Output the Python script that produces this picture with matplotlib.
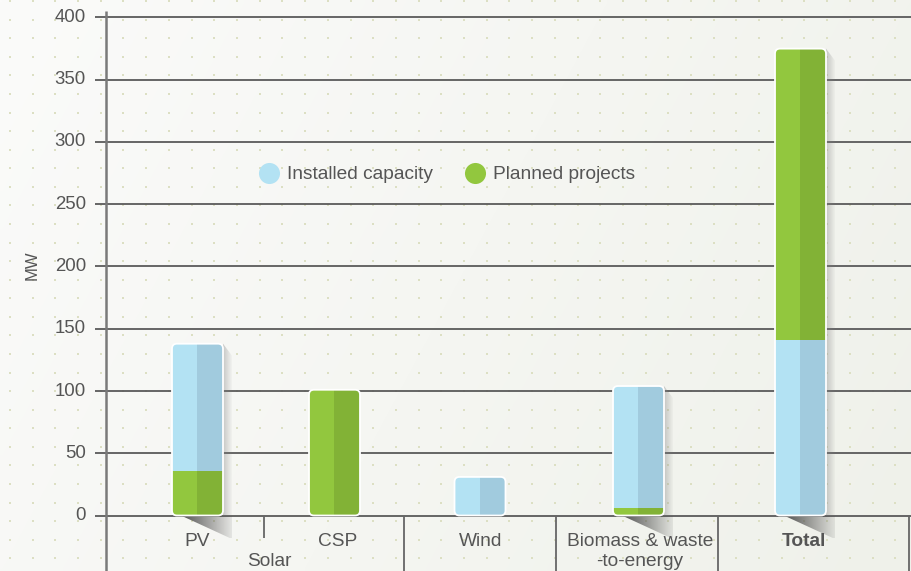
import matplotlib.pyplot as plt
import numpy as np
from matplotlib.colors import to_rgb
from matplotlib.patches import FancyBboxPatch, Polygon

# data (MW)
categories = ["PV", "CSP", "Wind", "Biomass & waste\n-to-energy", "Total"]
installed = [102, 0, 31, 98, 141]
planned = [36, 101, 0, 6, 234]
planned_at_bottom = [True, True, True, True, False]
with_shadow = [True, False, False, True, True]
yticks = [0, 50, 100, 150, 200, 250, 300, 350, 400]
group_label = "Solar"

# layout (pixel-like units on the x axis)
W, H = 912, 571
BASE, PPU = 515.5, 1.245          # pixel row of 0 MW, pixels per MW
bar_x = [197.5, 334.5, 480, 638.5, 800.5]
bar_w = 51
label_x = [197, 338, 481, 640, 804]
separators = [404, 556, 718, 909]

LIGHT_BLUE, DARK_BLUE = "#b3e2f3", "#a1cbde"
LIGHT_GREEN, DARK_GREEN = "#92c73e", "#82b236"
TEXT = "#555555"
FONT = ["Liberation Sans", "DejaVu Sans"]
FS = 13.8


def v(py):
    """pixel row -> MW"""
    return (BASE - py) / PPU


def px(n):
    """pixel height -> MW"""
    return n / PPU


fig = plt.figure(figsize=(W / 100, H / 100), dpi=100)
plt.rcParams["font.family"] = FONT

# background: soft gradient + dot pattern
bg = fig.add_axes([0, 0, 1, 1])
bg.set_axis_off()
xx, yy = np.meshgrid(np.linspace(0, 1, 200), np.linspace(0, 1, 120))
t = np.clip(0.75 * xx + 0.25 * yy, 0, 1)
c0 = np.array(to_rgb("#fbfbfa"))
c1 = np.array(to_rgb("#eff1ea"))
img = c0[None, None, :] * (1 - t[..., None]) + c1[None, None, :] * t[..., None]
bg.imshow(img, extent=[0, W, H, 0], aspect="auto", interpolation="bilinear")
dx, dy = np.meshgrid(np.arange(10, W, 22.7), np.arange(1.2, H, 18.57))
bg.scatter(dx.ravel(), dy.ravel(), s=3.2, marker="s", color="#dcdfc3", linewidths=0)
bg.set_xlim(0, W)
bg.set_ylim(H, 0)

ax = fig.add_axes([0, 0, 1, 1])
ax.patch.set_visible(False)
ax.set_axis_off()


def grad_fill(pts, x0, x1, y0, y1, color, a0, a1):
    poly = Polygon(pts, closed=True, fc="none", ec="none")
    ax.add_patch(poly)
    rgba = np.zeros((1, 64, 4))
    rgba[..., :3] = to_rgb(color)
    rgba[0, :, 3] = np.linspace(a0, a1, 64)
    im = ax.imshow(rgba, extent=[x0, x1, y0, y1], aspect="auto",
                   interpolation="bilinear", zorder=1.5)
    im.set_clip_path(poly)


# grid + axis
ax.hlines(yticks, 95, W, color="#5a5a5a", lw=1.3, zorder=1)
ax.vlines(106, v(H), v(11), color="#7a7a7a", lw=1.8, zorder=1)
ax.vlines(separators, v(H), 0, color="#666666", lw=1.3, zorder=1)
ax.vlines(264, v(538), 0, color="#666666", lw=1.3, zorder=1)
for tk in yticks:
    ax.text(86, tk, str(tk), ha="right", va="center", fontsize=13.4, color=TEXT)
ax.text(32, v(265), "MW", rotation=90, ha="center", va="center",
        fontsize=12, color=TEXT)

# bars
for i, x in enumerate(bar_x):
    if planned_at_bottom[i]:
        segs = [(planned[i], LIGHT_GREEN, DARK_GREEN), (installed[i], LIGHT_BLUE, DARK_BLUE)]
    else:
        segs = [(installed[i], LIGHT_BLUE, DARK_BLUE), (planned[i], LIGHT_GREEN, DARK_GREEN)]
    total = installed[i] + planned[i]
    xl, xr = x - bar_w / 2, x + bar_w / 2

    if with_shadow[i]:
        grad_fill([(xr, total), (xr + 9, total - px(12)), (xr + 9, 0), (xr, 0)],
                  xr, xr + 9, 0, total, "#808080", 0.4, 0.04)
        grad_fill([(xl + 10, 0), (xr + 9, 0), (xr + 9, -px(23))],
                  xl + 10, xr + 9, -px(23), 0, "#444444", 0.9, 0.1)

    clip = FancyBboxPatch((xl, 0), bar_w, total,
                          boxstyle="round,pad=0,rounding_size=5",
                          mutation_aspect=1 / PPU, fc="none", ec="none")
    ax.add_patch(clip)
    bottom = 0
    for val, light, dark in segs:
        if val <= 0:
            continue
        for rect in ax.bar(x - bar_w / 4, val, bar_w / 2, bottom=bottom,
                           color=light, zorder=2, linewidth=0):
            rect.set_clip_path(clip)
        for rect in ax.bar(x + bar_w / 4, val, bar_w / 2, bottom=bottom,
                           color=dark, zorder=2, linewidth=0):
            rect.set_clip_path(clip)
        bottom += val
    ax.add_patch(FancyBboxPatch((xl, 0), bar_w, total,
                                boxstyle="round,pad=0,rounding_size=5",
                                mutation_aspect=1 / PPU, fc="none",
                                ec="white", lw=1.3, zorder=3))

# category labels
for i, name in enumerate(categories):
    ax.text(label_x[i], v(533), name, ha="center", va="top", fontsize=FS,
            color=TEXT, linespacing=1.25,
            fontweight="bold" if name == "Total" else "normal")
ax.text(269, v(561), group_label, ha="center", va="center", fontsize=FS, color=TEXT)

# legend
ax.scatter([269], [v(173)], s=230, color=LIGHT_BLUE, linewidths=0, zorder=4)
ax.text(287, v(174.5), "Installed capacity", ha="left", va="center",
        fontsize=FS, color=TEXT)
ax.scatter([475], [v(173)], s=230, color=LIGHT_GREEN, linewidths=0, zorder=4)
ax.text(493, v(174.5), "Planned projects", ha="left", va="center",
        fontsize=FS, color=TEXT)

ax.set_xlim(0, W)
ax.set_ylim(v(H), v(0))

fig.savefig("out.png", dpi=100)
